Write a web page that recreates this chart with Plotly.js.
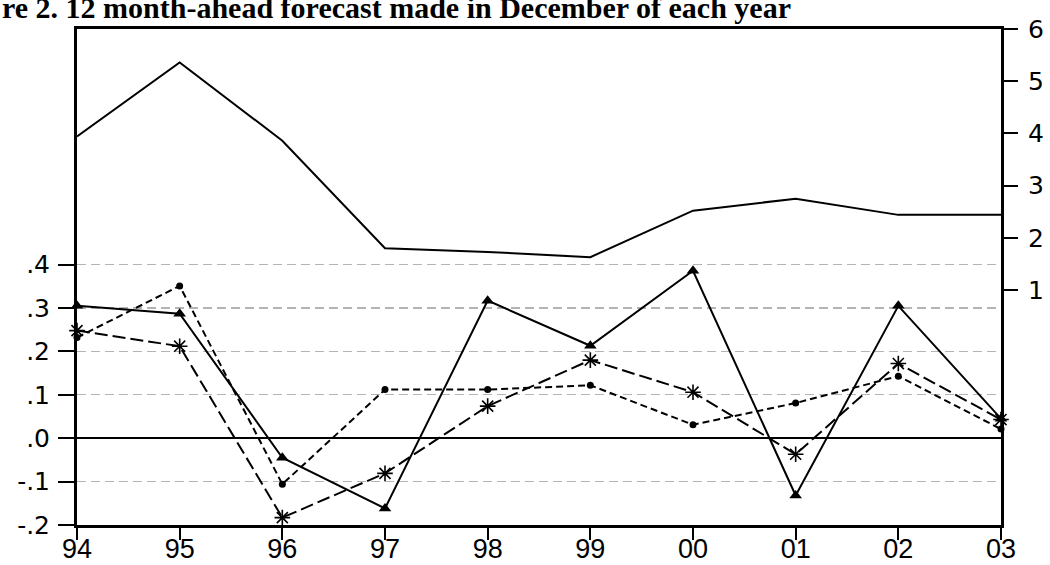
<!DOCTYPE html>
<html>
<head>
<meta charset="utf-8">
<script src="https://cdn.plot.ly/plotly-3.0.1.min.js"></script>
<style>
  html, body { margin: 0; padding: 0; background: #fff; }
  #chart { width: 1050px; height: 565px; }
</style>
</head>
<body>
<div id="chart"></div>
<script>
// Forecast years (December of each year)
const years = ['94', '95', '96', '97', '98', '99', '00', '01', '02', '03'];

// Level series, read on the right-hand axis
const levelRight = [3.94, 5.36, 3.86, 1.80, 1.73, 1.63, 2.52, 2.75, 2.44, 2.44];

// Forecast series, read on the left-hand axis
const triangleSeries = [0.305, 0.287, -0.045, -0.162, 0.317, 0.213, 0.386, -0.132, 0.305, 0.045];
const circleSeries   = [0.232, 0.351, -0.106, 0.112, 0.112, 0.122, 0.031, 0.081, 0.143, 0.021];
const starSeries     = [0.248, 0.212, -0.183, -0.081, 0.074, 0.180, 0.106, -0.037, 0.172, 0.043];

// Axis ticks
const leftTicks = [-0.2, -0.1, 0, 0.1, 0.2, 0.3, 0.4];
const leftTickText = ['-.2', '-.1', '.0', '.1', '.2', '.3', '.4'];
const rightTicks = [1, 2, 3, 4, 5, 6];

const titleText = 're 2. 12 month-ahead forecast made in December of each year';

const traces = [
  {
    x: years, y: levelRight, yaxis: 'y2', type: 'scatter', mode: 'lines',
    line: { color: '#000', width: 2 }, cliponaxis: false, hoverinfo: 'skip'
  },
  {
    x: years, y: triangleSeries, type: 'scatter', mode: 'lines+markers',
    line: { color: '#000', width: 2 },
    marker: { symbol: 'triangle-up', size: 11, color: '#000' },
    cliponaxis: false
  },
  {
    x: years, y: circleSeries, type: 'scatter', mode: 'lines+markers',
    line: { color: '#000', width: 2, dash: '7px,4px' },
    marker: { symbol: 'circle', size: 7, color: '#000' },
    cliponaxis: false
  },
  {
    x: years, y: starSeries, type: 'scatter', mode: 'lines+markers',
    line: { color: '#000', width: 2, dash: '13px,5px' },
    marker: { symbol: 'asterisk-open', size: 13, color: '#000', line: { color: '#000', width: 1.6 } },
    cliponaxis: false
  }
];

const layout = {
  width: 1050,
  height: 565,
  margin: { l: 77, r: 49, t: 29, b: 40, autoexpand: false },
  paper_bgcolor: '#fff',
  plot_bgcolor: '#fff',
  showlegend: false,
  font: { family: 'Liberation Sans, Arial, sans-serif', color: '#000' },
  xaxis: {
    type: 'category', range: [0, 9],
    tickvals: years, ticktext: years,
    showgrid: false, zeroline: false,
    showline: true, linecolor: '#000', linewidth: 3, mirror: true,
    ticks: 'outside', ticklen: 12, tickwidth: 2, tickcolor: '#000',
    ticklabelstandoff: -14,
    tickfont: { size: 27, family: 'Liberation Sans, Arial, sans-serif' },
    automargin: false
  },
  yaxis: {
    range: [-0.2, 0.943],
    tickvals: leftTicks, ticktext: leftTickText,
    showgrid: true, gridcolor: '#b4b4b4', gridwidth: 1.3, griddash: '9px,5px',
    zeroline: true, zerolinecolor: '#000', zerolinewidth: 1.6,
    showline: true, linecolor: '#000', linewidth: 3,
    ticks: 'outside', ticklen: 16, tickwidth: 2, tickcolor: '#000',
    ticklabelstandoff: 3,
    tickfont: { size: 25, family: 'DejaVu Sans, sans-serif' },
    automargin: false
  },
  yaxis2: {
    overlaying: 'y', side: 'right', range: [-3.5, 6],
    tickvals: rightTicks,
    showgrid: false, zeroline: false,
    showline: true, linecolor: '#000', linewidth: 3,
    ticks: 'outside', ticklen: 14, tickwidth: 2, tickcolor: '#000',
    ticklabelstandoff: 5,
    tickfont: { size: 25, family: 'DejaVu Sans, sans-serif' },
    automargin: false
  },
  annotations: [{
    text: '<b>' + titleText + '</b>',
    xref: 'paper', yref: 'paper',
    x: -77 / 924, y: 1.08,
    xanchor: 'left', yanchor: 'top',
    showarrow: false,
    font: { family: 'Liberation Serif, Times New Roman, serif', size: 30, color: '#000' }
  }]
};

Plotly.newPlot('chart', traces, layout, { staticPlot: true, displayModeBar: false });
</script>
</body>
</html>
